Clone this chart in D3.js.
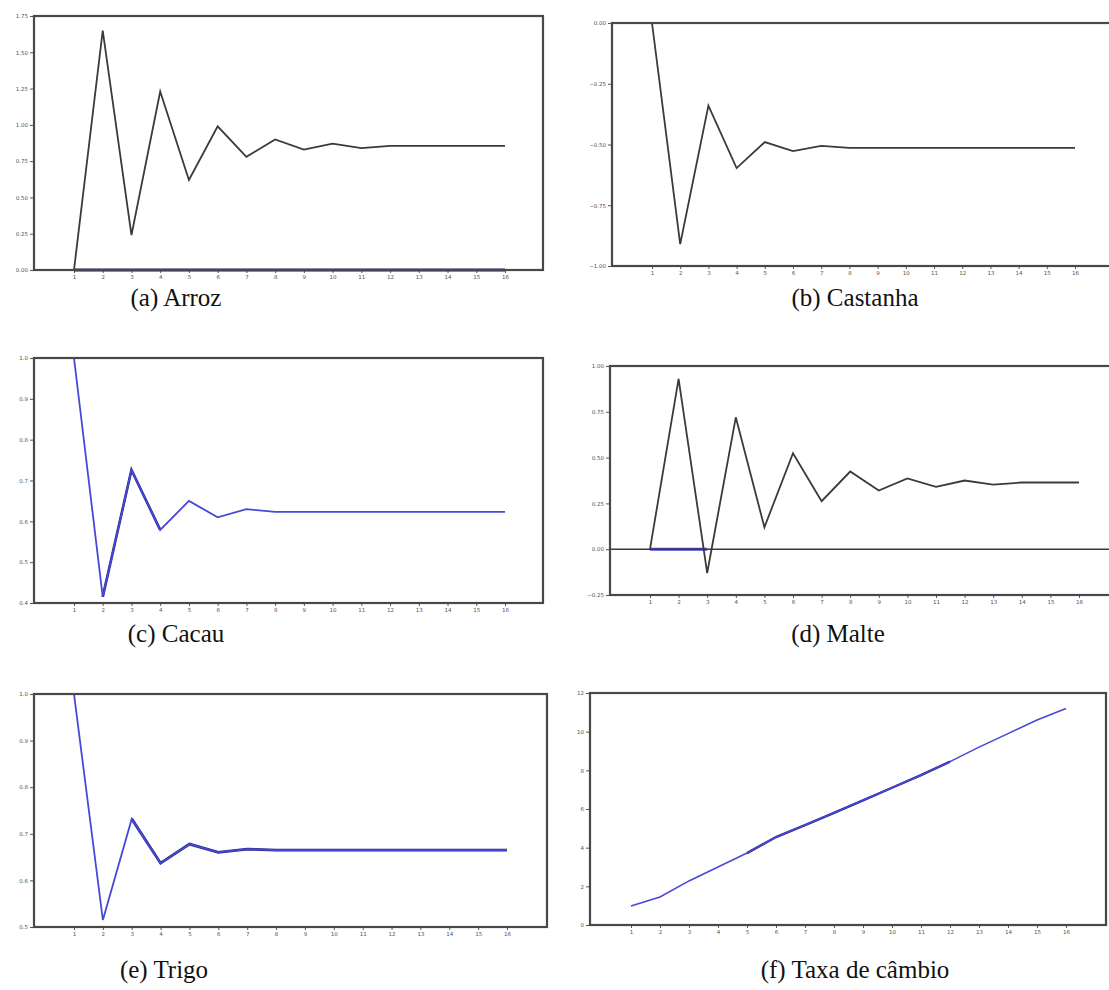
<!DOCTYPE html>
<html>
<head>
<meta charset="utf-8">
<script src="https://cdn.jsdelivr.net/npm/d3@7"></script>
<style>
  body { margin: 0; background: #fff; }
  svg { display: block; }
</style>
</head>
<body>
<div id="chart"></div>
<script>
// períodos (passos da resposta)
const steps = [1, 2, 3, 4, 5, 6, 7, 8, 9, 10, 11, 12, 13, 14, 15, 16];

// séries principais
const arroz = [0, 1.65, 0.24, 1.23, 0.62, 0.99, 0.78, 0.90, 0.83, 0.87, 0.84, 0.855, 0.855, 0.855, 0.855, 0.855];
const castanha = [0, -0.91, -0.34, -0.597, -0.49, -0.527, -0.506, -0.514, -0.514, -0.514, -0.514, -0.514, -0.514, -0.514, -0.514, -0.514];
const cacau = [1.0, 0.415, 0.726, 0.579, 0.65, 0.61, 0.63, 0.623, 0.623, 0.623, 0.623, 0.623, 0.623, 0.623, 0.623, 0.623];
const malte = [0, 0.93, -0.13, 0.72, 0.12, 0.524, 0.262, 0.424, 0.32, 0.386, 0.34, 0.375, 0.353, 0.364, 0.364, 0.364];
const trigo = [1.0, 0.515, 0.732, 0.637, 0.678, 0.66, 0.667, 0.665, 0.665, 0.665, 0.665, 0.665, 0.665, 0.665, 0.665, 0.665];
const cambio = [0.98, 1.45, 2.28, 3.0, 3.72, 4.55, 5.17, 5.8, 6.45, 7.1, 7.75, 8.45, 9.2, 9.9, 10.6, 11.2];

// séries secundárias (parcialmente visíveis)
const arrozBlue = [0, 0, 0, 0, 0, 0, 0, 0, 0, 0, 0, 0, 0, 0, 0, 0];
const castanhaBlue = [0, 0];
const malteBlue = [0, 0, 0];

// rótulos dos eixos y
const ticksA = [0, 0.25, 0.5, 0.75, 1.0, 1.25, 1.5, 1.75];
const ticksB = [-1.0, -0.75, -0.5, -0.25, 0];
const ticksC = [0.4, 0.5, 0.6, 0.7, 0.8, 0.9, 1.0];
const ticksD = [-0.25, 0, 0.25, 0.5, 0.75, 1.0];
const ticksE = [0.5, 0.6, 0.7, 0.8, 0.9, 1.0];
const ticksF = [0, 2, 4, 6, 8, 10, 12];

const captions = ["(a) Arroz", "(b) Castanha", "(c) Cacau", "(d) Malte", "(e) Trigo", "(f) Taxa de câmbio"];

const svg = d3.select("#chart").append("svg")
    .attr("width", 1109)
    .attr("height", 990);

const dark = "#3a3a3a";
const blue = "#4848d8";
const navy = "#20207a";

function drawPanel(p) {
    const x = d3.scaleLinear().domain([1, 16]).range([p.x1, p.x16]);
    const y = d3.scaleLinear().domain(p.yDomain).range([p.bottom, p.top]);
    const g = svg.append("g");

    // eixo y
    g.append("g")
        .attr("transform", `translate(${p.left},0)`)
        .call(d3.axisLeft(y).tickValues(p.yTicks).tickSize(4).tickPadding(2).tickFormat(d3.format(p.fmt)))
        .call(a => a.select(".domain").remove())
        .call(a => a.selectAll("line").attr("stroke", "#555"))
        .call(a => a.selectAll("text").attr("font-size", 5.5).attr("fill", "#555").attr("font-family", "DejaVu Sans"));

    // eixo x
    g.append("g")
        .attr("transform", `translate(0,${p.bottom})`)
        .call(d3.axisBottom(x).tickValues(steps).tickSize(3).tickPadding(2).tickFormat(d3.format("d")))
        .call(a => a.select(".domain").remove())
        .call(a => a.selectAll("line").attr("stroke", "#555"))
        .call(a => a.selectAll("text").attr("font-size", 5.5).attr("fill", "#555").attr("font-family", "DejaVu Sans"));

    const line = d3.line().x((d, i) => x(steps[i])).y(d => y(d));

    (p.under || []).forEach(s => {
        g.append("path").datum(s.values)
            .attr("d", d3.line().x((d, i) => x(steps[i + (s.start || 0)])).y(d => y(d)))
            .attr("fill", "none").attr("stroke", s.color).attr("stroke-width", s.width);
    });

    if (p.zeroLine) {
        g.append("line")
            .attr("x1", p.left).attr("x2", p.right)
            .attr("y1", y(0)).attr("y2", y(0))
            .attr("stroke", dark).attr("stroke-width", 1.6);
    }

    g.append("path").datum(p.values)
        .attr("d", line)
        .attr("fill", "none")
        .attr("stroke", p.color)
        .attr("stroke-width", p.width || 1.8);

    (p.over || []).forEach(s => {
        g.append("path").datum(s.values)
            .attr("d", d3.line().x((d, i) => x(steps[i + (s.start || 0)])).y(d => y(d)))
            .attr("fill", "none").attr("stroke", s.color).attr("stroke-width", s.width);
    });

    // moldura
    g.append("rect")
        .attr("x", p.left).attr("y", p.top)
        .attr("width", p.right - p.left).attr("height", p.bottom - p.top)
        .attr("fill", "none").attr("stroke", "#484848").attr("stroke-width", 2.2);

    svg.append("text")
        .attr("x", p.capX).attr("y", p.capY)
        .attr("text-anchor", "middle")
        .attr("font-family", "Liberation Serif, Times New Roman, serif")
        .attr("font-size", 25)
        .attr("fill", "#111")
        .text(p.caption);
}

drawPanel({
    left: 34, right: 543, top: 16, bottom: 270, x1: 74, x16: 505,
    yDomain: [0, 1.75], yTicks: ticksA, fmt: ".2f",
    values: arroz, color: dark,
    under: [{ values: arrozBlue, color: navy, width: 3 }],
    caption: captions[0], capX: 176, capY: 306
});

drawPanel({
    left: 612, right: 1120, top: 23, bottom: 266, x1: 652, x16: 1075,
    yDomain: [-1, 0], yTicks: ticksB, fmt: ".2f",
    values: castanha, color: dark,
    over: [{ values: castanhaBlue, color: blue, width: 2 }],
    caption: captions[1], capX: 855, capY: 306
});

drawPanel({
    left: 34, right: 543, top: 358, bottom: 603, x1: 74, x16: 505,
    yDomain: [0.4, 1.0], yTicks: ticksC, fmt: ".1f",
    values: cacau, color: blue,
    under: [{ values: cacau.slice(1, 4), start: 1, color: navy, width: 2.6 }],
    caption: captions[2], capX: 176, capY: 642
});

drawPanel({
    left: 610, right: 1120, top: 366, bottom: 595, x1: 650, x16: 1079,
    yDomain: [-0.25, 1.0], yTicks: ticksD, fmt: ".2f",
    values: malte, color: dark, zeroLine: true,
    under: [{ values: malteBlue, color: blue, width: 3 }],
    caption: captions[3], capX: 838, capY: 642
});

drawPanel({
    left: 34, right: 547, top: 694, bottom: 927, x1: 74, x16: 507,
    yDomain: [0.5, 1.0], yTicks: ticksE, fmt: ".1f",
    values: trigo, color: blue,
    under: [{ values: trigo.slice(2), start: 2, color: navy, width: 2.8 }],
    caption: captions[4], capX: 164, capY: 978
});

drawPanel({
    left: 590, right: 1106, top: 693, bottom: 925, x1: 631, x16: 1066,
    yDomain: [0, 12], yTicks: ticksF, fmt: "d",
    values: cambio, color: blue, width: 1.6,
    under: [{ values: cambio.slice(4, 12), start: 4, color: navy, width: 2.4 }],
    caption: captions[5], capX: 855, capY: 978
});
</script>
</body>
</html>
